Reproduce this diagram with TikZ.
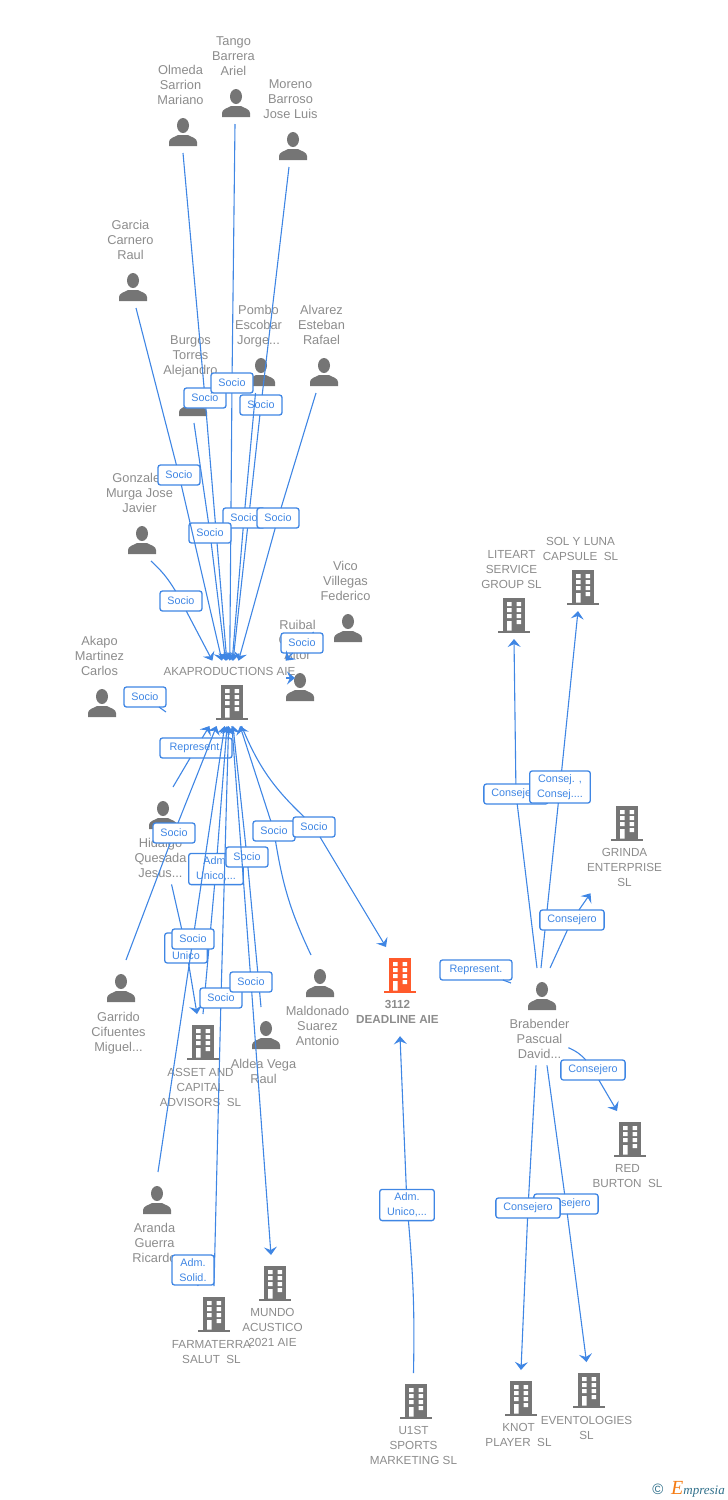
\documentclass[tikz,border=0pt]{standalone}
\usepackage{fontspec}
\setmainfont{Liberation Sans}
\newfontfamily\logofont{Liberation Serif}
\usetikzlibrary{arrows.meta,positioning}

\definecolor{iconc}{HTML}{757575}
\definecolor{hotc}{HTML}{FF5A2B}
\definecolor{namec}{HTML}{8C8C8C}
\definecolor{linkc}{HTML}{3F86E4}
\definecolor{tealc}{HTML}{2F6F8A}
\definecolor{logoc}{HTML}{F57C14}

\newcommand{\lowgap}[1][40pt]{\rule{0pt}{#1}}
\newcommand{\highgap}[1][43pt]{\rule[-#1]{0pt}{#1}}

\tikzset{
  % the two icons, drawn round (0,0), y runs downwards
  pics/personicon/.style={code={
    \fill[iconc] (0,-6.5) ellipse (6 and 7.5);
    \fill[iconc] (-14,14) -- (-14,10) .. controls (-14,6) and (-8,5) .. (-5,3) -- (5,3) .. controls (8,5) and (14,6) .. (14,10) -- (14,14) -- cycle;
  }},
  pics/buildingicon/.style={code={
    \fill[#1] (-11,-17) rectangle (11,15.5);
    \fill[#1] (-16,15.5) rectangle (16,18);
    \fill[white] (-7,-13) rectangle (-2.5,-9) (2.5,-13) rectangle (7,-9);
    \fill[white] (-7,-7) rectangle (-2.5,-3) (2.5,-7) rectangle (7,-3);
    \fill[white] (-7,-1) rectangle (-2.5,3) (2.5,-1) rectangle (7,3);
    \fill[white] (-7,6) rectangle (-2.5,15.5) (2.5,5) rectangle (7,9);
  }},
  pics/buildingicon/.default=iconc,
  who/.style={inner sep=7pt,outer sep=0pt,align=center,text=namec,font=\fontsize{12.8}{15}\selectfont},
  firm/.style={who,font=\fontsize{11.7}{15}\selectfont},
  link/.style={color=linkc,line width=1.1pt,->},
  tag/.style={draw=linkc,line width=1.3pt,fill=white,rounded corners=2.5pt,text=linkc,
    font=\fontsize{10.8}{15}\selectfont,inner xsep=7.5pt,inner ysep=3.5pt,minimum height=20pt,outer sep=0pt,align=center},
}

\begin{document}
\begin{tikzpicture}[x=1pt,y=-1pt,>={Stealth[length=8pt,width=13pt,inset=3pt]}]
\useasboundingbox (0,0) rectangle (728,1500);

% people
\pic at (183,132) {personicon};
\node[who,anchor=south] (p_olmeda) at (180.5,153) {Olmeda\\Sarrion\\Mariano\\\lowgap};
\pic at (236,103) {personicon};
\node[who,anchor=south] (p_tango) at (233.5,124) {Tango\\Barrera\\Ariel\\\lowgap};
\pic at (293,146) {personicon};
\node[who,anchor=south] (p_moreno) at (290.5,167) {Moreno\\Barroso\\Jose Luis\\\lowgap};
\pic at (133,287) {personicon};
\node[who,anchor=south] (p_garcia) at (130.5,308) {Garcia\\Carnero\\Raul\\\lowgap};
\pic at (261,372) {personicon};
\node[who,anchor=south] (p_pombo) at (258.5,393) {Pombo\\Escobar\\Jorge...\\\lowgap[38pt]};
\pic at (324,372) {personicon};
\node[who,anchor=south] (p_alvarez) at (321.5,393) {Alvarez\\Esteban\\Rafael\\\lowgap};
\pic at (193,402) {personicon};
\node[who,anchor=south] (p_burgos) at (190.5,423) {Burgos\\Torres\\Alejandro\\\lowgap[38pt]};
\pic at (142,540) {personicon};
\node[who,anchor=south] (p_gonzalez) at (139.5,561) {Gonzalez\\Murga Jose\\Javier\\\lowgap};
\pic at (348,628) {personicon};
\node[who,anchor=south] (p_vico) at (345.5,649) {Vico\\Villegas\\Federico\\\lowgap};
\pic at (300,687) {personicon};
\node[who,anchor=south] (p_ruibal) at (297.5,708) {Ruibal\\Garcia\\Aitor\\\lowgap};
\pic at (102,703) {personicon};
\node[who,anchor=south] (p_akapo) at (99.5,724) {Akapo\\Martinez\\Carlos\\\lowgap};
\pic at (163,815) {personicon};
\node[who,anchor=north] (p_hidalgo) at (160.5,787) {\highgap\\Hidalgo\\Quesada\\Jesus...};
\pic at (121,988) {personicon};
\node[who,anchor=north] (p_garrido) at (118.5,960) {\highgap[44pt]\\Garrido\\Cifuentes\\Miguel...};
\pic at (320,983) {personicon};
\node[who,anchor=north] (p_maldonado) at (317.5,955) {\highgap\\Maldonado\\Suarez\\Antonio};
\pic at (266,1035) {personicon};
\node[who,anchor=north] (p_aldea) at (263.5,1007) {\highgap[44pt]\\Aldea Vega\\Raul};
\pic at (157,1200) {personicon};
\node[who,anchor=north] (p_aranda) at (154.5,1172) {\highgap\\Aranda\\Guerra\\Ricardo};
\pic at (542,996) {personicon};
\node[who,anchor=north] (p_brabender) at (539.5,968) {\highgap\\Brabender\\Pascual\\David...};

% companies
\pic at (232,702) {buildingicon};
\node[firm,anchor=south] (c_aka) at (229.5,726) {AKAPRODUCTIONS AIE\\\lowgap[42pt]};
\pic at (514,615) {buildingicon};
\node[firm,anchor=south] (c_literat) at (511.5,639) {LITEART\\SERVICE\\GROUP SL\\\lowgap[42pt]};
\pic at (583,587) {buildingicon};
\node[firm,anchor=south] (c_sol) at (580.5,611) {SOL Y LUNA\\CAPSULE\ \ SL\\\lowgap[42pt]};
\pic at (627,823) {buildingicon};
\node[firm,anchor=north] (c_grinda) at (624.5,795) {\highgap[45pt]\\GRINDA\\ENTERPRISE\\SL};
\pic at (630,1139) {buildingicon};
\node[firm,anchor=north] (c_red) at (627.5,1111) {\highgap[45pt]\\RED\\BURTON\ \ SL};
\pic at (400,975) {buildingicon=hotc};
\node[firm,anchor=north,font=\bfseries\fontsize{11.7}{15}\selectfont] (c_deadline) at (397.5,947) {\highgap[45pt]\\3112\\DEADLINE AIE};
\pic at (203,1042) {buildingicon};
\node[firm,anchor=north] (c_asset) at (200.5,1014) {\highgap[46pt]\\ASSET AND\\CAPITAL\\ADVISORS\ \ SL};
\pic at (275,1283) {buildingicon};
\node[firm,anchor=north] (c_mundo) at (272.5,1255) {\highgap[45pt]\\MUNDO\\ACUSTICO\\2021 AIE};
\pic at (214,1314) {buildingicon};
\node[firm,anchor=north] (c_farma) at (211.5,1286) {\highgap[46pt]\\FARMATERRA\\SALUT\ \ SL};
\pic at (416,1401) {buildingicon};
\node[firm,anchor=north] (c_sports) at (413.5,1373) {\highgap[45pt]\\U1ST\\SPORTS\\MARKETING SL};
\pic at (521,1398) {buildingicon};
\node[firm,anchor=north] (c_knot) at (518.5,1370) {\highgap[45pt]\\KNOT\\PLAYER\ \ SL};
\pic at (589,1390) {buildingicon};
\node[firm,anchor=north] (c_event) at (586.5,1362) {\highgap[46pt]\\EVENTOLOGIES\\SL};

% loose ends
\coordinate (akapo_end) at (166,712);
\coordinate (brabender_end) at (511,983);
\coordinate (ruibal_a) at (286,678);
\coordinate (ruibal_b) at (295,678);

% links above the AKA box
\node[tag] (t_olmeda) at (205,398) {Socio};
\path[link] ([xshift=2.5pt]p_olmeda.south) edge[-] (t_olmeda) (t_olmeda) edge (c_aka);
\node[tag] (t_tango) at (232,383) {Socio};
\path[link] ([xshift=1.5pt]p_tango.south) edge[-] (t_tango) (t_tango) edge (c_aka);
\node[tag] (t_moreno) at (261,405) {Socio};
\path[link] ([xshift=-1.5pt]p_moreno.south) edge[-] (t_moreno) (t_moreno) edge (c_aka);
\node[tag] (t_pombo) at (244,518) {Socio};
\path[link] ([xshift=-3pt]p_pombo.south) edge[-] (t_pombo) (t_pombo) edge (c_aka);
\node[tag] (t_alvarez) at (278,518) {Socio};
\path[link] ([xshift=-5.5pt]p_alvarez.south) edge[-] (t_alvarez) (t_alvarez) edge (c_aka);
\node[tag] (t_burgos) at (210,533) {Socio};
\path[link] ([xshift=3.5pt]p_burgos.south) edge[-] (t_burgos) (t_burgos) edge (c_aka);
\node[tag] (t_garcia) at (179,475) {Socio};
\path[link] ([xshift=5.5pt]p_garcia.south) edge[-] (t_garcia) (t_garcia) edge (c_aka);
\node[tag] (t_gonzalez) at (181,601) {Socio};
\path[link] ([xshift=11.5pt]p_gonzalez.south) edge[-,bend left=8] (t_gonzalez) (t_gonzalez) edge (c_aka);
\node[tag] (t_akapo) at (145,697) {Socio};
\path[link] (t_akapo) edge[-] (akapo_end);
\path[link] (ruibal_a) edge (ruibal_b);
\node[tag] (t_vico) at (302,643) {Socio};
\path[link] (p_vico) edge[-] (t_vico) (t_vico) edge ([xshift=56pt]c_aka.north);

% links below the AKA box
\node[tag,minimum width=72pt] (t_hidalgo) at (196,748) {Represent.};
\path[link] ([xshift=12.5pt]p_hidalgo.north) edge[-] (t_hidalgo) (t_hidalgo) edge (c_aka);
\node[tag] (t_garrido) at (174,833) {Socio};
\path[link] ([xshift=7.5pt]p_garrido.north) edge[-] (t_garrido) (t_garrido) edge (c_aka);
\node[tag] (t_asset) at (216,869) {Adm.\\Unico,...};
\path[link] ([xshift=2.5pt]c_asset.north) edge[-] (t_asset) (t_asset) edge (c_aka);
\node[tag] (t_aldea) at (247,857) {Socio};
\path[link] ([xshift=-2.5pt]p_aldea.north) edge[-] (t_aldea) (t_aldea) edge (c_aka);
\node[tag] (t_unico) at (186,948) {Adm.\\Unico};
\path[link] (p_hidalgo) edge[-] (t_unico) (t_unico) edge ([xshift=-3.5pt]c_asset.north);
\node[tag] (t_aranda) at (193,939) {Socio};
\path[link] ([xshift=3.5pt]p_aranda.north) edge[-] (t_aranda) (t_aranda) edge (c_aka);
\node[tag] (t_farma) at (221,998) {Socio};
\path[link] ([xshift=2.5pt]c_farma.north) edge[-] (t_farma) (t_farma) edge (c_aka);
\node[tag] (t_mundo) at (251,982) {Socio};
\path[link] (c_aka) edge[-] (t_mundo) (t_mundo) edge ([xshift=-1.5pt]c_mundo.north);
\node[tag] (t_maldonado) at (274,831) {Socio};
\path[link] ([xshift=-6.5pt]p_maldonado.north) edge[-,bend left=8] (t_maldonado) (t_maldonado) edge (c_aka);
\node[tag] (t_deadline) at (314,827) {Socio};
\path[link] (c_aka) edge[-,bend right=12] (t_deadline) (t_deadline) edge ([xshift=-11.5pt]c_deadline.north);
\node[tag] (t_solid) at (193,1270) {Adm.\\Solid.};
\path[link] (t_solid) edge[-] (c_farma);

% links of Brabender
\node[tag,minimum width=72pt] (t_represent) at (476,970) {Represent.};
\path[link] (t_represent) edge[-] (brabender_end);
\node[tag] (t_literat) at (516,794) {Consejero};
\path[link] ([xshift=-2.5pt]p_brabender.north) edge[-] (t_literat) (t_literat) edge ([xshift=2.5pt]c_literat.south);
\node[tag] (t_sol) at (560,787) {Consej. ,\\Consej....};
\path[link] ([xshift=1.5pt]p_brabender.north) edge[-] (t_sol) (t_sol) edge ([xshift=-2.5pt]c_sol.south);
\node[tag] (t_grinda) at (572,920) {Consejero};
\path[link] ([xshift=10.5pt]p_brabender.north) edge[-] (t_grinda) (t_grinda) edge (c_grinda);
\node[tag] (t_red) at (593,1070) {Consejero};
\path[link] ([xshift=-8pt,yshift=-31pt]p_brabender.east) edge[-,bend left=12] (t_red) (t_red) edge ([xshift=-10.5pt]c_red.north);
\node[tag] (t_event) at (566,1204) {Consejero};
\path[link] ([xshift=7.5pt]p_brabender.south) edge[-] (t_event) (t_event) edge (c_event.north);
\node[tag] (t_knot) at (528,1208) {Consejero};
\path[link] ([xshift=-3.5pt]p_brabender.south) edge[-] (t_knot) (t_knot) edge ([xshift=2.5pt]c_knot.north);

\node[tag] (t_sports) at (407,1205) {Adm.\\Unico,...};
\path[link] (c_sports.north) edge[-,bend right=3] (t_sports) (t_sports) edge ([xshift=2.5pt,yshift=-6pt]c_deadline.south);

% logo
\node[text=tealc,font=\fontsize{15}{15}\selectfont,inner sep=0pt] (logo_c) at (658,1489) {©};
\node[text=tealc,font=\logofont\itshape\fontsize{13}{13}\selectfont,inner sep=0pt,anchor=base west] (logo_t) at (671,1494) {{\color{logoc}\fontsize{20}{20}\selectfont E}mpresia};
\end{tikzpicture}
\end{document}
